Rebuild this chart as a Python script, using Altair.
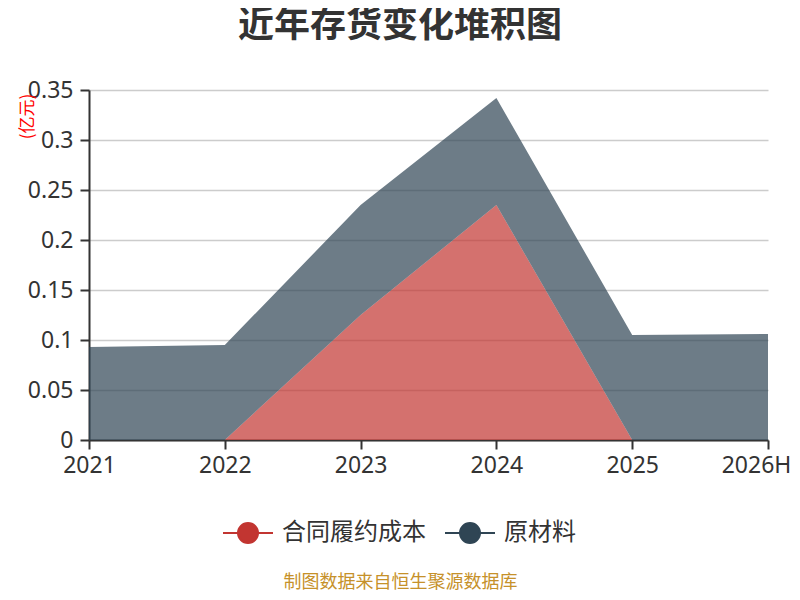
import altair as alt
import pandas as pd

years = ["2021", "2022", "2023", "2024", "2025", "2026H"]
series_names = ["合同履约成本", "原材料"]
contract_cost = [0.0, 0.0, 0.125, 0.235, 0.0, 0.0]
raw_material = [0.093, 0.095, 0.110, 0.107, 0.105, 0.106]
series_colors = ["#c23531", "#2f4554"]
y_ticks = [0, 0.05, 0.1, 0.15, 0.2, 0.25, 0.3, 0.35]

rows = []
for i, yr in enumerate(years):
    rows.append({"year": yr, "series": series_names[0], "value": contract_cost[i], "ord": 0})
    rows.append({"year": yr, "series": series_names[1], "value": raw_material[i], "ord": 1})
df = pd.DataFrame(rows)

FONT = "Noto Sans, Noto Sans CJK SC"
CJK = "Noto Sans CJK SC"
legend_path = "M-2.5,0 H-1 M1,0 H2.5 M-1,0 A1,1 0 1,1 1,0 A1,1 0 1,1 -1,0 Z"

color_scale = alt.Scale(domain=series_names, range=series_colors)
legend = alt.Legend(
    title=None, orient="none", legendX=147, legendY=431,
    direction="horizontal", columns=2,
    symbolType=legend_path, symbolSize=400, symbolStrokeWidth=2,
    symbolOpacity=1,
    labelFontSize=24, labelColor="#333333", labelFont=CJK,
    labelOffset=22, columnPadding=15,
)

chart = alt.Chart(df).mark_area(opacity=0.7, interpolate="linear", strokeWidth=0).encode(
    x=alt.X(
        "year:N", sort=years,
        scale=alt.Scale(type="point", padding=0),
        axis=alt.Axis(
            title="制图数据来自恒生聚源数据库", titleX=311, titleY=142,
            titleAlign="center", titleBaseline="middle", titleAngle=0,
            titleColor="#c6912a", titleFontSize=18, titleFontWeight="normal", titleFont=CJK,
            labelAngle=0, labelFontSize=23, labelColor="#333333", labelFont=FONT,
            labelPadding=5,
            labelOffset={"condition": {"test": "datum.value == '2026H'", "value": -12}, "value": 0},
            tickSize=9, tickColor="#333333", tickWidth=2,
            domainColor="#333333", domainWidth=2, grid=False,
        ),
    ),
    y=alt.Y(
        "value:Q", stack="zero",
        scale=alt.Scale(domain=[0, 0.35], nice=False),
        axis=alt.Axis(
            values=y_ticks, format=".2~f",
            title="(亿元)", titleX=-62, titleY=26, titleAngle=270,
            titleAlign="center", titleBaseline="middle",
            titleColor="#ff0000", titleFontSize=17, titleFontWeight="normal", titleFont=CJK,
            labelFontSize=23, labelColor="#333333", labelFont=FONT, labelPadding=7,
            tickSize=9, tickColor="#333333", tickWidth=2,
            domainColor="#333333", domainWidth=2,
            grid=True, gridColor="#cccccc", gridWidth=1.5,
        ),
    ),
    color=alt.Color("series:N", scale=color_scale, legend=legend),
    stroke=alt.Stroke("series:N", scale=color_scale, legend=legend),
    order=alt.Order("ord:Q"),
).properties(
    width=679, height=350,
    autosize=alt.AutoSizeParams(type="none"),
    padding={"left": 81, "top": 82, "right": 24, "bottom": 152},
    title=alt.TitleParams(
        "近年存货变化堆积图", fontSize=36, fontWeight="bold", color="#333333",
        font=CJK, anchor="middle", dx=-28.5, offset=37, dy=39, baseline="bottom",
    ),
).configure_view(strokeWidth=0)

chart.save("out.html", embed_options={"renderer": "svg", "actions": False})
